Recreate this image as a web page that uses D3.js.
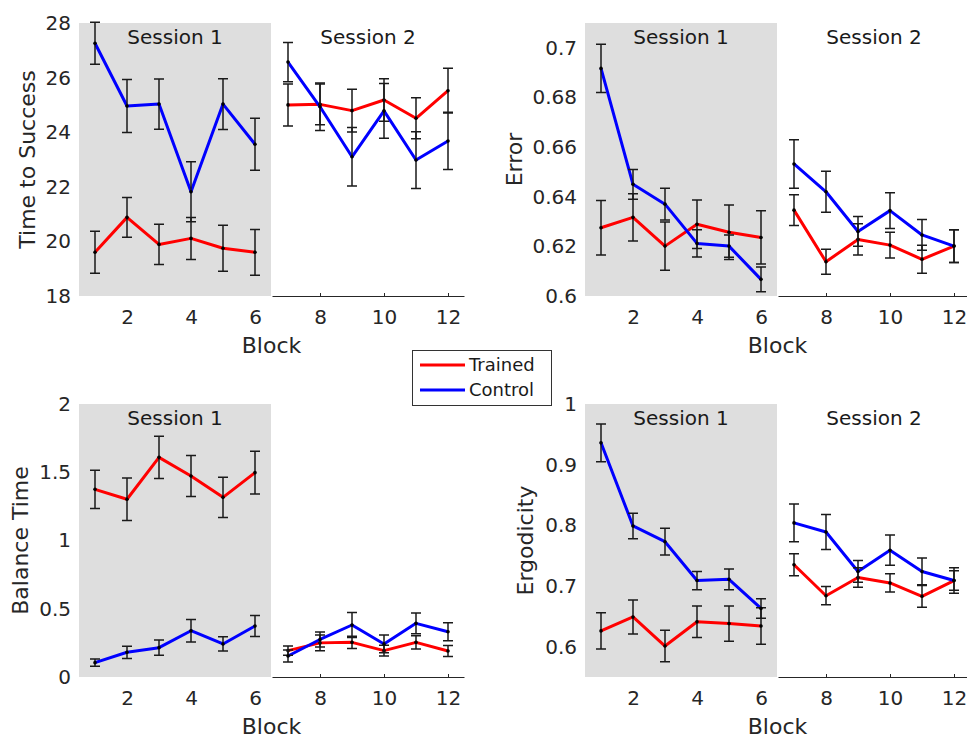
<!DOCTYPE html>
<html>
<head>
<meta charset="utf-8">
<script src="https://cdn.jsdelivr.net/npm/d3@7"></script>
<style>
  body { margin: 0; background: #fff; }
  svg { display: block; font-family: "DejaVu Sans", sans-serif; }
</style>
</head>
<body>
<div id="chart"></div>
<script>
// Blocks 1-6 = session 1, 7-12 = session 2
const blocks = [1, 2, 3, 4, 5, 6, 7, 8, 9, 10, 11, 12];
const session1Ticks = [2, 4, 6];
const session2Ticks = [8, 10, 12];

// Time to Success
const timeTrained    = [19.6, 20.88, 19.89, 20.11, 19.75, 19.6, 25.0, 25.02, 24.79, 25.18, 24.51, 25.52];
const timeTrainedErr = [0.77, 0.73, 0.74, 0.77, 0.84, 0.84, 0.77, 0.75, 0.78, 0.78, 0.75, 0.82];
const timeControl    = [27.26, 24.96, 25.03, 21.82, 25.03, 23.56, 26.57, 24.93, 23.1, 24.78, 22.98, 23.68];
const timeControlErr = [0.77, 0.97, 0.92, 1.1, 0.93, 0.95, 0.72, 0.87, 1.07, 1.0, 1.04, 1.05];
const timeTicks = [18, 20, 22, 24, 26, 28];

// Error
const errTrained    = [0.6275, 0.6317, 0.6201, 0.6289, 0.6257, 0.6236, 0.6346, 0.6138, 0.6228, 0.6205, 0.6148, 0.6201];
const errTrainedErr = [0.011, 0.0095, 0.0097, 0.0098, 0.011, 0.0107, 0.0062, 0.005, 0.0063, 0.0052, 0.0056, 0.0066];
const errControl    = [0.6917, 0.645, 0.637, 0.6212, 0.6201, 0.6067, 0.6532, 0.642, 0.626, 0.6344, 0.6246, 0.6201];
const errControlErr = [0.0097, 0.006, 0.0064, 0.0055, 0.0045, 0.005, 0.0098, 0.0083, 0.006, 0.0072, 0.0062, 0.0066];
const errTicks = [0.6, 0.62, 0.64, 0.66, 0.68, 0.7];

// Balance Time
const balTrained    = [1.375, 1.302, 1.609, 1.473, 1.316, 1.497, 0.193, 0.25, 0.254, 0.193, 0.254, 0.19];
const balTrainedErr = [0.14, 0.156, 0.155, 0.15, 0.148, 0.157, 0.034, 0.057, 0.045, 0.04, 0.049, 0.04];
const balControl    = [0.105, 0.181, 0.215, 0.339, 0.242, 0.374, 0.154, 0.275, 0.381, 0.242, 0.393, 0.332];
const balControlErr = [0.026, 0.045, 0.056, 0.082, 0.052, 0.077, 0.044, 0.055, 0.092, 0.065, 0.076, 0.066];
const balTicks = [0, 0.5, 1, 1.5, 2];

// Ergodicity
const ergTrained    = [0.626, 0.649, 0.601, 0.641, 0.638, 0.634, 0.735, 0.684, 0.714, 0.705, 0.683, 0.709];
const ergTrainedErr = [0.03, 0.028, 0.026, 0.026, 0.029, 0.03, 0.018, 0.015, 0.016, 0.015, 0.018, 0.016];
const ergControl    = [0.936, 0.799, 0.773, 0.709, 0.711, 0.663, 0.804, 0.789, 0.724, 0.759, 0.724, 0.709];
const ergControlErr = [0.031, 0.021, 0.022, 0.015, 0.017, 0.016, 0.031, 0.029, 0.018, 0.025, 0.022, 0.021];
const ergTicks = [0.6, 0.7, 0.8, 0.9, 1];

const legendNames = ["Trained", "Control"];

// Layout / style
const W = 967, H = 738;
const PANEL_H = 273, SESSION_W = 192, GAP = 1;
const RED = "#ff0000", BLUE = "#0000ff", SHADE = "#dedede", INK = "#262626";

const svg = d3.select("#chart").append("svg")
  .attr("width", W)
  .attr("height", H);

const panels = [
  { label: "Time to Success", trained: timeTrained, trainedErr: timeTrainedErr, control: timeControl, controlErr: timeControlErr,
    yDomain: [18, 28], yTicks: timeTicks, left: 79, top: 23, labelX: -44, showS2Title: true },
  { label: "Error", trained: errTrained, trainedErr: errTrainedErr, control: errControl, controlErr: errControlErr,
    yDomain: [0.6, 0.71], yTicks: errTicks, left: 585, top: 23, labelX: -63, showS2Title: true },
  { label: "Balance Time", trained: balTrained, trainedErr: balTrainedErr, control: balControl, controlErr: balControlErr,
    yDomain: [0, 2], yTicks: balTicks, left: 79, top: 404, labelX: -51, showS2Title: false },
  { label: "Ergodicity", trained: ergTrained, trainedErr: ergTrainedErr, control: ergControl, controlErr: ergControlErr,
    yDomain: [0.55, 1], yTicks: ergTicks, left: 585, top: 404, labelX: -52, showS2Title: true }
];

panels.forEach(drawPanel);
drawLegend();

function drawPanel(p) {
  const g = svg.append("g").attr("transform", `translate(${p.left},${p.top})`);
  const y = d3.scaleLinear().domain(p.yDomain).range([PANEL_H, 0]);

  const sessions = [
    { x: d3.scaleLinear().domain([0.5, 6.5]).range([0, SESSION_W]),
      idx: d3.range(0, 6), ticks: session1Ticks, title: "Session 1", shaded: true },
    { x: d3.scaleLinear().domain([6.5, 12.5]).range([SESSION_W + GAP, 2 * SESSION_W + GAP]),
      idx: d3.range(6, 12), ticks: session2Ticks, title: p.showS2Title ? "Session 2" : null, shaded: false }
  ];

  sessions.forEach(s => {
    const [x0, x1] = s.x.range();
    if (s.shaded) {
      g.append("rect")
        .attr("x", x0).attr("y", 0)
        .attr("width", x1 - x0).attr("height", PANEL_H)
        .attr("fill", SHADE);
    }

    // x axis
    const xAxis = g.append("g")
      .attr("transform", `translate(0,${PANEL_H})`)
      .call(d3.axisBottom(s.x).tickValues(s.ticks).tickFormat(d3.format("d"))
        .tickSizeInner(s.shaded ? 0 : -3).tickSizeOuter(0).tickPadding(14));
    xAxis.attr("font-family", null).attr("font-size", 20).attr("color", INK);
    xAxis.selectAll("text").attr("y", 14);
    if (s.shaded) xAxis.select(".domain").remove();

    if (s.title) {
      g.append("text")
        .attr("x", (x0 + x1) / 2).attr("y", 21)
        .attr("text-anchor", "middle")
        .attr("font-size", 20).attr("fill", "#1a1a1a")
        .text(s.title);
    }

    const series = [
      { vals: p.trained, errs: p.trainedErr, color: RED },
      { vals: p.control, errs: p.controlErr, color: BLUE }
    ];

    series.forEach(sr => {
      g.append("path")
        .datum(s.idx)
        .attr("fill", "none")
        .attr("stroke", sr.color)
        .attr("stroke-width", 3)
        .attr("stroke-linejoin", "round")
        .attr("d", d3.line().x(i => s.x(blocks[i])).y(i => y(sr.vals[i])));
    });

    series.forEach(sr => {
      const eb = g.append("g")
        .attr("stroke", "#1a1a1a")
        .attr("stroke-width", 1.5)
        .attr("fill", "none");
      s.idx.forEach(i => {
        const cx = s.x(blocks[i]);
        const yHi = y(sr.vals[i] + sr.errs[i]);
        const yLo = y(sr.vals[i] - sr.errs[i]);
        eb.append("path")
          .attr("d", `M${cx},${yHi}V${yLo}M${cx - 5},${yHi}H${cx + 5}M${cx - 5},${yLo}H${cx + 5}`);
      });
      g.append("g").selectAll("circle")
        .data(s.idx)
        .join("circle")
        .attr("cx", i => s.x(blocks[i]))
        .attr("cy", i => y(sr.vals[i]))
        .attr("r", 1.8)
        .attr("fill", "#000");
    });
  });

  // y axis (labels only)
  const yAxis = g.append("g")
    .call(d3.axisLeft(y).tickValues(p.yTicks).tickSize(0).tickPadding(8)
      .tickFormat(d => String(+d.toFixed(2))));
  yAxis.attr("font-family", null).attr("font-size", 20).attr("color", INK);
  yAxis.select(".domain").remove();

  // axis labels
  g.append("text")
    .attr("x", SESSION_W + GAP / 2).attr("y", PANEL_H + 57)
    .attr("text-anchor", "middle")
    .attr("font-size", 22).attr("fill", INK)
    .text("Block");

  g.append("text")
    .attr("transform", `translate(${p.labelX},${PANEL_H / 2}) rotate(-90)`)
    .attr("text-anchor", "middle")
    .attr("font-size", 22).attr("fill", INK)
    .text(p.label);
}

function drawLegend() {
  const lg = svg.append("g").attr("transform", "translate(412,350)");
  lg.append("rect")
    .attr("x", 0.5).attr("y", 0.5)
    .attr("width", 139).attr("height", 55)
    .attr("fill", "#fff").attr("stroke", "#333").attr("stroke-width", 1);
  const colors = [RED, BLUE];
  legendNames.forEach((name, k) => {
    const ly = 15 + k * 25;
    lg.append("line")
      .attr("x1", 8).attr("x2", 53).attr("y1", ly).attr("y2", ly)
      .attr("stroke", colors[k]).attr("stroke-width", 3);
    lg.append("text")
      .attr("x", 57).attr("y", ly).attr("dy", "0.35em")
      .attr("font-size", 18).attr("fill", "#1a1a1a")
      .text(name);
  });
}
</script>
</body>
</html>
